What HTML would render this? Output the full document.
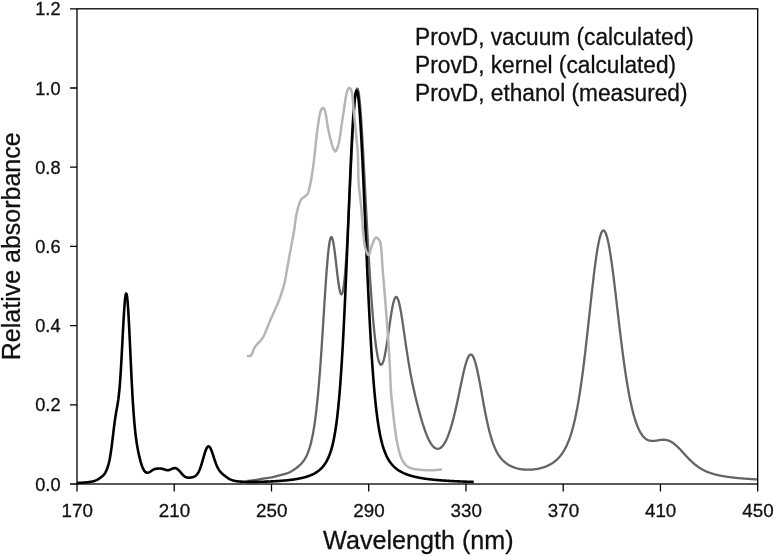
<!DOCTYPE html>
<html><head><meta charset="utf-8"><title>ProvD absorbance</title>
<style>
html,body{margin:0;padding:0;background:#fff;}
body{width:774px;height:556px;overflow:hidden;}
svg{display:block;}
text{font-family:"Liberation Sans",Arial,sans-serif;fill:#111;stroke:#111;stroke-width:0.3px;}
.tk{font-size:18.8px;}
.ttl{font-size:25px;}
.lg{font-size:22.7px;}
</style></head><body>
<svg width="774" height="556" viewBox="0 0 774 556">
<rect width="774" height="556" fill="#fff"/>
<g fill="none" stroke-linejoin="round" stroke-linecap="butt">
<path d="M247.17,480.94 L247.78,480.89 L248.39,480.84 L248.99,480.79 L249.60,480.73 L250.21,480.67 L250.82,480.61 L251.42,480.54 L252.03,480.47 L252.64,480.40 L253.25,480.32 L253.86,480.24 L254.46,480.16 L255.07,480.06 L255.68,479.97 L256.29,479.87 L256.89,479.76 L257.50,479.65 L258.11,479.54 L258.72,479.43 L259.33,479.31 L259.93,479.20 L260.54,479.08 L261.15,478.97 L261.76,478.86 L262.36,478.75 L262.97,478.65 L263.58,478.55 L264.19,478.46 L264.79,478.37 L265.40,478.29 L266.01,478.21 L266.62,478.13 L267.23,478.05 L267.83,477.97 L268.44,477.89 L269.05,477.81 L269.66,477.72 L270.26,477.62 L270.87,477.52 L271.48,477.41 L272.09,477.29 L272.70,477.16 L273.30,477.02 L273.91,476.87 L274.52,476.72 L275.13,476.56 L275.73,476.39 L276.34,476.22 L276.95,476.05 L277.56,475.89 L278.17,475.72 L278.77,475.55 L279.38,475.39 L279.99,475.23 L280.60,475.07 L281.20,474.92 L281.81,474.77 L282.42,474.62 L283.03,474.47 L283.63,474.32 L284.24,474.16 L284.85,473.99 L285.46,473.82 L286.07,473.63 L286.67,473.43 L287.28,473.22 L287.89,472.99 L288.50,472.74 L289.10,472.48 L289.71,472.19 L290.32,471.89 L290.93,471.56 L291.54,471.22 L292.14,470.87 L292.75,470.49 L293.36,470.10 L293.97,469.70 L294.57,469.28 L295.18,468.85 L295.79,468.41 L296.40,467.96 L297.01,467.49 L297.61,467.01 L298.22,466.51 L298.83,466.00 L299.44,465.46 L300.04,464.91 L300.65,464.32 L301.26,463.70 L301.87,463.04 L302.48,462.33 L303.08,461.57 L303.69,460.76 L304.30,459.87 L304.91,458.91 L305.51,457.87 L306.12,456.73 L306.73,455.49 L307.34,454.13 L307.94,452.65 L308.55,451.02 L309.16,449.25 L309.77,447.30 L310.38,445.18 L310.98,442.85 L311.59,440.30 L312.20,437.52 L312.81,434.47 L313.41,431.15 L314.02,427.52 L314.63,423.55 L315.24,419.23 L315.85,414.53 L316.45,409.43 L317.06,403.89 L317.67,397.90 L318.28,391.44 L318.88,384.51 L319.49,377.10 L320.10,369.22 L320.71,360.90 L321.32,352.17 L321.92,343.07 L322.53,333.69 L323.14,324.10 L323.75,314.41 L324.35,304.74 L324.96,295.20 L325.57,285.95 L326.18,277.13 L326.79,268.89 L327.39,261.36 L328.00,254.67 L328.61,248.95 L329.22,244.28 L329.82,240.74 L330.43,238.37 L331.04,237.18 L331.65,237.15 L332.25,238.22 L332.86,240.33 L333.47,243.35 L334.08,247.15 L334.69,251.59 L335.29,256.51 L335.90,261.72 L336.51,267.05 L337.12,272.32 L337.72,277.36 L338.33,282.00 L338.94,286.10 L339.55,289.50 L340.16,292.09 L340.76,293.76 L341.37,294.40 L341.98,293.96 L342.59,292.36 L343.19,289.58 L343.80,285.59 L344.41,280.39 L345.02,273.99 L345.63,266.45 L346.23,257.81 L346.84,248.17 L347.45,237.63 L348.06,226.31 L348.66,214.36 L349.27,201.95 L349.88,189.26 L350.49,176.51 L351.10,163.89 L351.70,151.62 L352.31,139.92 L352.92,129.00 L353.53,119.07 L354.13,110.29 L354.74,102.84 L355.35,96.86 L355.96,92.43 L356.56,89.64 L357.17,88.51 L357.78,89.04 L358.39,91.21 L359.00,94.93 L359.60,100.12 L360.21,106.66 L360.82,114.39 L361.43,123.18 L362.03,132.86 L362.64,143.27 L363.25,154.24 L363.86,165.61 L364.47,177.25 L365.07,189.01 L365.68,200.78 L366.29,212.45 L366.90,223.93 L367.50,235.15 L368.11,246.04 L368.72,256.56 L369.33,266.68 L369.94,276.35 L370.54,285.57 L371.15,294.31 L371.76,302.57 L372.37,310.33 L372.97,317.60 L373.58,324.37 L374.19,330.63 L374.80,336.38 L375.41,341.62 L376.01,346.33 L376.62,350.52 L377.23,354.17 L377.84,357.29 L378.44,359.88 L379.05,361.92 L379.66,363.42 L380.27,364.38 L380.88,364.81 L381.48,364.70 L382.09,364.07 L382.70,362.94 L383.31,361.32 L383.91,359.24 L384.52,356.73 L385.13,353.81 L385.74,350.54 L386.34,346.95 L386.95,343.11 L387.56,339.05 L388.17,334.86 L388.78,330.58 L389.38,326.30 L389.99,322.07 L390.60,317.98 L391.21,314.08 L391.81,310.45 L392.42,307.15 L393.03,304.24 L393.64,301.76 L394.25,299.76 L394.85,298.28 L395.46,297.33 L396.07,296.93 L396.68,297.08 L397.28,297.78 L397.89,299.01 L398.50,300.73 L399.11,302.93 L399.72,305.55 L400.32,308.55 L400.93,311.88 L401.54,315.49 L402.15,319.33 L402.75,323.34 L403.36,327.47 L403.97,331.68 L404.58,335.92 L405.19,340.15 L405.79,344.34 L406.40,348.47 L407.01,352.50 L407.62,356.43 L408.22,360.24 L408.83,363.92 L409.44,367.47 L410.05,370.90 L410.65,374.20 L411.26,377.39 L411.87,380.46 L412.48,383.42 L413.09,386.30 L413.69,389.08 L414.30,391.79 L414.91,394.43 L415.52,397.01 L416.12,399.52 L416.73,401.99 L417.34,404.40 L417.95,406.77 L418.56,409.09 L419.16,411.37 L419.77,413.59 L420.38,415.78 L420.99,417.91 L421.59,419.99 L422.20,422.01 L422.81,423.98 L423.42,425.89 L424.03,427.73 L424.63,429.51 L425.24,431.22 L425.85,432.86 L426.46,434.43 L427.06,435.92 L427.67,437.34 L428.28,438.67 L428.89,439.93 L429.50,441.10 L430.10,442.20 L430.71,443.21 L431.32,444.14 L431.93,444.98 L432.53,445.74 L433.14,446.42 L433.75,447.01 L434.36,447.52 L434.96,447.94 L435.57,448.28 L436.18,448.54 L436.79,448.71 L437.40,448.80 L438.00,448.80 L438.61,448.71 L439.22,448.54 L439.83,448.28 L440.43,447.94 L441.04,447.51 L441.65,446.98 L442.26,446.37 L442.87,445.67 L443.47,444.87 L444.08,443.98 L444.69,443.00 L445.30,441.93 L445.90,440.76 L446.51,439.49 L447.12,438.13 L447.73,436.68 L448.34,435.13 L448.94,433.48 L449.55,431.74 L450.16,429.90 L450.77,427.98 L451.37,425.95 L451.98,423.84 L452.59,421.64 L453.20,419.35 L453.81,416.98 L454.41,414.52 L455.02,411.98 L455.63,409.38 L456.24,406.70 L456.84,403.96 L457.45,401.16 L458.06,398.32 L458.67,395.44 L459.27,392.53 L459.88,389.61 L460.49,386.69 L461.10,383.78 L461.71,380.90 L462.31,378.07 L462.92,375.31 L463.53,372.63 L464.14,370.06 L464.74,367.61 L465.35,365.32 L465.96,363.19 L466.57,361.26 L467.18,359.53 L467.78,358.04 L468.39,356.78 L469.00,355.79 L469.61,355.08 L470.21,354.64 L470.82,354.50 L471.43,354.65 L472.04,355.10 L472.65,355.85 L473.25,356.89 L473.86,358.22 L474.47,359.81 L475.08,361.67 L475.68,363.77 L476.29,366.10 L476.90,368.64 L477.51,371.36 L478.12,374.24 L478.72,377.27 L479.33,380.41 L479.94,383.64 L480.55,386.94 L481.15,390.28 L481.76,393.65 L482.37,397.02 L482.98,400.37 L483.58,403.69 L484.19,406.96 L484.80,410.17 L485.41,413.29 L486.02,416.33 L486.62,419.27 L487.23,422.10 L487.84,424.82 L488.45,427.43 L489.05,429.92 L489.66,432.29 L490.27,434.54 L490.88,436.68 L491.49,438.70 L492.09,440.60 L492.70,442.40 L493.31,444.09 L493.92,445.68 L494.52,447.17 L495.13,448.57 L495.74,449.89 L496.35,451.12 L496.96,452.27 L497.56,453.35 L498.17,454.37 L498.78,455.32 L499.39,456.21 L499.99,457.05 L500.60,457.84 L501.21,458.58 L501.82,459.27 L502.43,459.93 L503.03,460.55 L503.64,461.13 L504.25,461.69 L504.86,462.21 L505.46,462.70 L506.07,463.17 L506.68,463.61 L507.29,464.03 L507.89,464.42 L508.50,464.80 L509.11,465.15 L509.72,465.49 L510.33,465.81 L510.93,466.11 L511.54,466.40 L512.15,466.67 L512.76,466.93 L513.36,467.17 L513.97,467.40 L514.58,467.61 L515.19,467.82 L515.80,468.01 L516.40,468.18 L517.01,468.35 L517.62,468.50 L518.23,468.65 L518.83,468.78 L519.44,468.91 L520.05,469.02 L520.66,469.12 L521.27,469.22 L521.87,469.30 L522.48,469.38 L523.09,469.45 L523.70,469.51 L524.30,469.56 L524.91,469.60 L525.52,469.64 L526.13,469.66 L526.74,469.68 L527.34,469.69 L527.95,469.70 L528.56,469.70 L529.17,469.69 L529.77,469.67 L530.38,469.65 L530.99,469.62 L531.60,469.58 L532.20,469.53 L532.81,469.48 L533.42,469.42 L534.03,469.36 L534.64,469.28 L535.24,469.20 L535.85,469.11 L536.46,469.02 L537.07,468.92 L537.67,468.81 L538.28,468.69 L538.89,468.56 L539.50,468.43 L540.11,468.29 L540.71,468.14 L541.32,467.98 L541.93,467.81 L542.54,467.63 L543.14,467.44 L543.75,467.25 L544.36,467.04 L544.97,466.82 L545.58,466.59 L546.18,466.35 L546.79,466.10 L547.40,465.84 L548.01,465.56 L548.61,465.27 L549.22,464.96 L549.83,464.65 L550.44,464.31 L551.05,463.96 L551.65,463.60 L552.26,463.21 L552.87,462.81 L553.48,462.39 L554.08,461.94 L554.69,461.48 L555.30,460.99 L555.91,460.48 L556.51,459.95 L557.12,459.39 L557.73,458.80 L558.34,458.18 L558.95,457.53 L559.55,456.84 L560.16,456.12 L560.77,455.36 L561.38,454.57 L561.98,453.73 L562.59,452.84 L563.20,451.91 L563.81,450.93 L564.42,449.89 L565.02,448.80 L565.63,447.64 L566.24,446.42 L566.85,445.14 L567.45,443.78 L568.06,442.34 L568.67,440.83 L569.28,439.23 L569.89,437.53 L570.49,435.75 L571.10,433.86 L571.71,431.87 L572.32,429.77 L572.92,427.56 L573.53,425.22 L574.14,422.76 L574.75,420.17 L575.36,417.44 L575.96,414.57 L576.57,411.56 L577.18,408.40 L577.79,405.10 L578.39,401.63 L579.00,398.01 L579.61,394.24 L580.22,390.30 L580.82,386.21 L581.43,381.96 L582.04,377.56 L582.65,373.01 L583.26,368.31 L583.86,363.47 L584.47,358.50 L585.08,353.40 L585.69,348.19 L586.29,342.88 L586.90,337.48 L587.51,332.00 L588.12,326.47 L588.73,320.89 L589.33,315.29 L589.94,309.69 L590.55,304.10 L591.16,298.56 L591.76,293.07 L592.37,287.67 L592.98,282.39 L593.59,277.23 L594.20,272.23 L594.80,267.41 L595.41,262.80 L596.02,258.42 L596.63,254.29 L597.23,250.43 L597.84,246.86 L598.45,243.61 L599.06,240.68 L599.66,238.10 L600.27,235.88 L600.88,234.03 L601.49,232.56 L602.10,231.47 L602.70,230.78 L603.31,230.48 L603.92,230.58 L604.53,231.06 L605.13,231.94 L605.74,233.19 L606.35,234.82 L606.96,236.81 L607.57,239.14 L608.17,241.81 L608.78,244.79 L609.39,248.08 L610.00,251.64 L610.60,255.46 L611.21,259.52 L611.82,263.79 L612.43,268.26 L613.04,272.89 L613.64,277.68 L614.25,282.59 L614.86,287.61 L615.47,292.71 L616.07,297.87 L616.68,303.07 L617.29,308.28 L617.90,313.50 L618.51,318.71 L619.11,323.88 L619.72,329.00 L620.33,334.07 L620.94,339.05 L621.54,343.95 L622.15,348.75 L622.76,353.44 L623.37,358.02 L623.98,362.47 L624.58,366.80 L625.19,370.99 L625.80,375.05 L626.41,378.96 L627.01,382.73 L627.62,386.36 L628.23,389.84 L628.84,393.18 L629.44,396.38 L630.05,399.43 L630.66,402.34 L631.27,405.12 L631.88,407.76 L632.48,410.27 L633.09,412.64 L633.70,414.89 L634.31,417.02 L634.91,419.03 L635.52,420.92 L636.13,422.70 L636.74,424.37 L637.35,425.94 L637.95,427.41 L638.56,428.78 L639.17,430.05 L639.78,431.24 L640.38,432.34 L640.99,433.35 L641.60,434.29 L642.21,435.14 L642.82,435.93 L643.42,436.65 L644.03,437.29 L644.64,437.88 L645.25,438.40 L645.85,438.87 L646.46,439.28 L647.07,439.63 L647.68,439.94 L648.28,440.20 L648.89,440.42 L649.50,440.60 L650.11,440.74 L650.72,440.84 L651.32,440.91 L651.93,440.95 L652.54,440.96 L653.15,440.95 L653.75,440.92 L654.36,440.87 L654.97,440.80 L655.58,440.73 L656.19,440.64 L656.79,440.54 L657.40,440.44 L658.01,440.34 L658.62,440.24 L659.22,440.14 L659.83,440.05 L660.44,439.97 L661.05,439.89 L661.66,439.84 L662.26,439.79 L662.87,439.76 L663.48,439.76 L664.09,439.77 L664.69,439.81 L665.30,439.87 L665.91,439.95 L666.52,440.06 L667.13,440.20 L667.73,440.36 L668.34,440.56 L668.95,440.78 L669.56,441.03 L670.16,441.31 L670.77,441.62 L671.38,441.96 L671.99,442.33 L672.60,442.72 L673.20,443.14 L673.81,443.59 L674.42,444.06 L675.03,444.55 L675.63,445.07 L676.24,445.60 L676.85,446.16 L677.46,446.74 L678.06,447.33 L678.67,447.93 L679.28,448.55 L679.89,449.18 L680.50,449.82 L681.10,450.47 L681.71,451.13 L682.32,451.79 L682.93,452.45 L683.53,453.11 L684.14,453.78 L684.75,454.45 L685.36,455.11 L685.97,455.77 L686.57,456.42 L687.18,457.07 L687.79,457.71 L688.40,458.34 L689.00,458.96 L689.61,459.58 L690.22,460.18 L690.83,460.77 L691.44,461.35 L692.04,461.92 L692.65,462.47 L693.26,463.01 L693.87,463.54 L694.47,464.05 L695.08,464.55 L695.69,465.04 L696.30,465.51 L696.90,465.97 L697.51,466.42 L698.12,466.85 L698.73,467.27 L699.34,467.67 L699.94,468.06 L700.55,468.44 L701.16,468.80 L701.77,469.16 L702.37,469.50 L702.98,469.83 L703.59,470.14 L704.20,470.45 L704.81,470.75 L705.41,471.03 L706.02,471.31 L706.63,471.57 L707.24,471.83 L707.84,472.07 L708.45,472.31 L709.06,472.54 L709.67,472.76 L710.28,472.97 L710.88,473.18 L711.49,473.38 L712.10,473.57 L712.71,473.76 L713.31,473.93 L713.92,474.11 L714.53,474.27 L715.14,474.44 L715.75,474.59 L716.35,474.74 L716.96,474.89 L717.57,475.03 L718.18,475.17 L718.78,475.30 L719.39,475.43 L720.00,475.55 L720.61,475.67 L721.22,475.79 L721.82,475.91 L722.43,476.02 L723.04,476.12 L723.65,476.23 L724.25,476.33 L724.86,476.43 L725.47,476.53 L726.08,476.62 L726.68,476.71 L727.29,476.80 L727.90,476.89 L728.51,476.97 L729.12,477.05 L729.72,477.13 L730.33,477.21 L730.94,477.29 L731.55,477.36 L732.15,477.44 L732.76,477.51 L733.37,477.58 L733.98,477.64 L734.59,477.71 L735.19,477.78 L735.80,477.84 L736.41,477.90 L737.02,477.96 L737.62,478.02 L738.23,478.08 L738.84,478.14 L739.45,478.20 L740.06,478.25 L740.66,478.30 L741.27,478.36 L741.88,478.41 L742.49,478.46 L743.09,478.51 L743.70,478.56 L744.31,478.61 L744.92,478.66 L745.52,478.70 L746.13,478.75 L746.74,478.79 L747.35,478.84 L747.96,478.88 L748.56,478.92 L749.17,478.96 L749.78,479.00 L750.39,479.05 L750.99,479.08 L751.60,479.12 L752.21,479.16 L752.82,479.20 L753.43,479.24 L754.03,479.27 L754.64,479.31 L755.25,479.35 L755.86,479.38 L756.46,479.42 L757.07,479.45 L757.68,479.48" stroke="#646464" stroke-width="2.3"/>
<path d="M77.00,482.99 L77.49,482.97 L77.97,482.94 L78.46,482.92 L78.94,482.89 L79.43,482.87 L79.92,482.84 L80.40,482.81 L80.89,482.78 L81.38,482.75 L81.86,482.72 L82.35,482.69 L82.83,482.66 L83.32,482.62 L83.81,482.59 L84.29,482.55 L84.78,482.51 L85.27,482.47 L85.75,482.42 L86.24,482.38 L86.72,482.33 L87.21,482.28 L87.70,482.22 L88.18,482.17 L88.67,482.11 L89.15,482.05 L89.64,481.98 L90.13,481.91 L90.61,481.84 L91.10,481.76 L91.59,481.67 L92.07,481.58 L92.56,481.47 L93.04,481.36 L93.53,481.24 L94.02,481.11 L94.50,480.96 L94.99,480.79 L95.48,480.61 L95.96,480.40 L96.45,480.18 L96.93,479.93 L97.42,479.66 L97.91,479.37 L98.39,479.06 L98.88,478.74 L99.37,478.41 L99.85,478.07 L100.34,477.73 L100.82,477.38 L101.31,477.02 L101.80,476.65 L102.28,476.26 L102.77,475.83 L103.25,475.37 L103.74,474.85 L104.23,474.26 L104.71,473.59 L105.20,472.83 L105.69,471.96 L106.17,470.99 L106.66,469.90 L107.14,468.67 L107.63,467.29 L108.12,465.73 L108.60,463.97 L109.09,461.98 L109.58,459.72 L110.06,457.17 L110.55,454.31 L111.03,451.12 L111.52,447.62 L112.01,443.86 L112.49,439.88 L112.98,435.78 L113.46,431.66 L113.95,427.62 L114.44,423.76 L114.92,420.15 L115.41,416.84 L115.90,413.82 L116.38,411.03 L116.87,408.36 L117.35,405.66 L117.84,402.74 L118.33,399.42 L118.81,395.50 L119.30,390.83 L119.79,385.30 L120.27,378.86 L120.76,371.53 L121.24,363.39 L121.73,354.60 L122.22,345.39 L122.70,336.02 L123.19,326.80 L123.68,318.09 L124.16,310.23 L124.65,303.56 L125.13,298.39 L125.62,294.97 L126.11,293.48 L126.59,294.04 L127.08,296.64 L127.56,301.20 L128.05,307.52 L128.54,315.37 L129.02,324.42 L129.51,334.33 L130.00,344.77 L130.48,355.39 L130.97,365.91 L131.45,376.07 L131.94,385.69 L132.43,394.63 L132.91,402.82 L133.40,410.22 L133.89,416.84 L134.37,422.72 L134.86,427.93 L135.34,432.53 L135.83,436.60 L136.32,440.23 L136.80,443.49 L137.29,446.44 L137.77,449.14 L138.26,451.64 L138.75,453.96 L139.23,456.13 L139.72,458.16 L140.21,460.06 L140.69,461.84 L141.18,463.49 L141.66,465.00 L142.15,466.38 L142.64,467.61 L143.12,468.71 L143.61,469.67 L144.10,470.49 L144.58,471.17 L145.07,471.73 L145.55,472.16 L146.04,472.48 L146.53,472.69 L147.01,472.80 L147.50,472.81 L147.99,472.75 L148.47,472.61 L148.96,472.40 L149.44,472.15 L149.93,471.86 L150.42,471.54 L150.90,471.21 L151.39,470.87 L151.87,470.54 L152.36,470.23 L152.85,469.94 L153.33,469.68 L153.82,469.45 L154.31,469.26 L154.79,469.09 L155.28,468.95 L155.76,468.84 L156.25,468.76 L156.74,468.69 L157.22,468.63 L157.71,468.59 L158.20,468.56 L158.68,468.53 L159.17,468.52 L159.65,468.51 L160.14,468.52 L160.63,468.55 L161.11,468.59 L161.60,468.66 L162.08,468.75 L162.57,468.87 L163.06,469.01 L163.54,469.17 L164.03,469.34 L164.52,469.51 L165.00,469.69 L165.49,469.85 L165.97,469.99 L166.46,470.10 L166.95,470.17 L167.43,470.21 L167.92,470.20 L168.41,470.14 L168.89,470.04 L169.38,469.90 L169.86,469.73 L170.35,469.54 L170.84,469.32 L171.32,469.10 L171.81,468.88 L172.30,468.67 L172.78,468.48 L173.27,468.32 L173.75,468.20 L174.24,468.12 L174.73,468.09 L175.21,468.13 L175.70,468.22 L176.18,468.38 L176.67,468.60 L177.16,468.89 L177.64,469.24 L178.13,469.64 L178.62,470.10 L179.10,470.60 L179.59,471.13 L180.07,471.69 L180.56,472.26 L181.05,472.84 L181.53,473.41 L182.02,473.97 L182.51,474.50 L182.99,475.00 L183.48,475.46 L183.96,475.88 L184.45,476.26 L184.94,476.59 L185.42,476.87 L185.91,477.11 L186.39,477.30 L186.88,477.45 L187.37,477.56 L187.85,477.64 L188.34,477.68 L188.83,477.70 L189.31,477.69 L189.80,477.66 L190.28,477.62 L190.77,477.55 L191.26,477.47 L191.74,477.38 L192.23,477.27 L192.72,477.14 L193.20,476.99 L193.69,476.81 L194.17,476.60 L194.66,476.36 L195.15,476.07 L195.63,475.73 L196.12,475.32 L196.61,474.85 L197.09,474.29 L197.58,473.64 L198.06,472.89 L198.55,472.04 L199.04,471.07 L199.52,469.99 L200.01,468.78 L200.49,467.47 L200.98,466.04 L201.47,464.52 L201.95,462.91 L202.44,461.23 L202.93,459.51 L203.41,457.78 L203.90,456.07 L204.38,454.39 L204.87,452.80 L205.36,451.33 L205.84,449.99 L206.33,448.84 L206.82,447.88 L207.30,447.15 L207.79,446.65 L208.27,446.40 L208.76,446.40 L209.25,446.65 L209.73,447.13 L210.22,447.83 L210.70,448.73 L211.19,449.81 L211.68,451.03 L212.16,452.37 L212.65,453.80 L213.14,455.28 L213.62,456.79 L214.11,458.30 L214.59,459.78 L215.08,461.22 L215.57,462.60 L216.05,463.90 L216.54,465.11 L217.03,466.24 L217.51,467.28 L218.00,468.23 L218.48,469.09 L218.97,469.87 L219.46,470.58 L219.94,471.23 L220.43,471.82 L220.92,472.36 L221.40,472.87 L221.89,473.34 L222.37,473.79 L222.86,474.22 L223.35,474.64 L223.83,475.04 L224.32,475.44 L224.80,475.82 L225.29,476.20 L225.78,476.57 L226.26,476.93 L226.75,477.28 L227.24,477.62 L227.72,477.94 L228.21,478.25 L228.69,478.55 L229.18,478.82 L229.67,479.09 L230.15,479.33 L230.64,479.56 L231.13,479.77 L231.61,479.96 L232.10,480.14 L232.58,480.31 L233.07,480.45 L233.56,480.59 L234.04,480.71 L234.53,480.83 L235.01,480.93 L235.50,481.02 L235.99,481.10 L236.47,481.18 L236.96,481.25 L237.45,481.31 L237.93,481.36 L238.42,481.42 L238.90,481.46 L239.39,481.50 L239.88,481.54 L240.36,481.58 L240.85,481.61 L241.34,481.64 L241.82,481.67 L242.31,481.69 L242.79,481.71 L243.28,481.73 L243.77,481.75 L244.25,481.77 L244.74,481.79 L245.23,481.80 L245.71,481.81 L246.20,481.82 L246.68,481.83 L247.17,481.84 L247.66,481.85 L248.14,481.86 L248.63,481.86 L249.11,481.87 L249.60,481.87 L250.09,481.87 L250.57,481.88 L251.06,481.88 L251.55,481.88 L252.03,481.88 L252.52,481.88 L253.00,481.88 L253.49,481.87 L253.98,481.87 L254.46,481.87 L254.95,481.86 L255.44,481.86 L255.92,481.86 L256.41,481.85 L256.89,481.84 L257.38,481.84 L257.87,481.83 L258.35,481.82 L258.84,481.81 L259.32,481.80 L259.81,481.79 L260.30,481.78 L260.78,481.77 L261.27,481.76 L261.76,481.75 L262.24,481.74 L262.73,481.73 L263.21,481.71 L263.70,481.70 L264.19,481.68 L264.67,481.67 L265.16,481.65 L265.65,481.64 L266.13,481.62 L266.62,481.61 L267.10,481.59 L267.59,481.57 L268.08,481.55 L268.56,481.53 L269.05,481.51 L269.54,481.49 L270.02,481.47 L270.51,481.45 L270.99,481.43 L271.48,481.41 L271.97,481.38 L272.45,481.36 L272.94,481.33 L273.42,481.31 L273.91,481.28 L274.40,481.26 L274.88,481.23 L275.37,481.20 L275.86,481.17 L276.34,481.15 L276.83,481.12 L277.31,481.08 L277.80,481.05 L278.29,481.02 L278.77,480.99 L279.26,480.95 L279.75,480.92 L280.23,480.88 L280.72,480.85 L281.20,480.81 L281.69,480.77 L282.18,480.73 L282.66,480.69 L283.15,480.65 L283.63,480.61 L284.12,480.57 L284.61,480.53 L285.09,480.48 L285.58,480.43 L286.07,480.39 L286.55,480.34 L287.04,480.29 L287.52,480.24 L288.01,480.19 L288.50,480.13 L288.98,480.08 L289.47,480.02 L289.96,479.97 L290.44,479.91 L290.93,479.85 L291.41,479.78 L291.90,479.72 L292.39,479.66 L292.87,479.59 L293.36,479.52 L293.85,479.45 L294.33,479.38 L294.82,479.30 L295.30,479.23 L295.79,479.15 L296.28,479.07 L296.76,478.99 L297.25,478.90 L297.73,478.81 L298.22,478.73 L298.71,478.63 L299.19,478.54 L299.68,478.44 L300.17,478.34 L300.65,478.24 L301.14,478.13 L301.62,478.02 L302.11,477.91 L302.60,477.79 L303.08,477.68 L303.57,477.55 L304.06,477.43 L304.54,477.30 L305.03,477.16 L305.51,477.02 L306.00,476.88 L306.49,476.73 L306.97,476.58 L307.46,476.42 L307.94,476.26 L308.43,476.09 L308.92,475.91 L309.40,475.73 L309.89,475.55 L310.38,475.35 L310.86,475.16 L311.35,474.95 L311.83,474.73 L312.32,474.51 L312.81,474.28 L313.29,474.04 L313.78,473.79 L314.27,473.53 L314.75,473.27 L315.24,472.99 L315.72,472.70 L316.21,472.40 L316.70,472.08 L317.18,471.75 L317.67,471.41 L318.16,471.05 L318.64,470.68 L319.13,470.29 L319.61,469.89 L320.10,469.46 L320.59,469.02 L321.07,468.55 L321.56,468.06 L322.04,467.55 L322.53,467.01 L323.02,466.44 L323.50,465.84 L323.99,465.21 L324.48,464.55 L324.96,463.85 L325.45,463.11 L325.93,462.33 L326.42,461.50 L326.91,460.62 L327.39,459.68 L327.88,458.69 L328.37,457.63 L328.85,456.51 L329.34,455.31 L329.82,454.02 L330.31,452.65 L330.80,451.17 L331.28,449.59 L331.77,447.90 L332.25,446.07 L332.74,444.11 L333.23,442.00 L333.71,439.72 L334.20,437.26 L334.69,434.60 L335.17,431.74 L335.66,428.64 L336.14,425.30 L336.63,421.70 L337.12,417.80 L337.60,413.60 L338.09,409.08 L338.58,404.21 L339.06,398.97 L339.55,393.35 L340.03,387.32 L340.52,380.88 L341.01,374.00 L341.49,366.68 L341.98,358.91 L342.47,350.68 L342.95,342.00 L343.44,332.87 L343.92,323.29 L344.41,313.29 L344.90,302.89 L345.38,292.12 L345.87,281.01 L346.35,269.62 L346.84,257.98 L347.33,246.16 L347.81,234.22 L348.30,222.23 L348.79,210.27 L349.27,198.42 L349.76,186.76 L350.24,175.39 L350.73,164.38 L351.22,153.84 L351.70,143.85 L352.19,134.50 L352.68,125.86 L353.16,118.03 L353.65,111.07 L354.13,105.04 L354.62,100.01 L355.11,96.01 L355.59,93.09 L356.08,91.27 L356.56,90.57 L357.05,90.98 L357.54,92.50 L358.02,95.11 L358.51,98.78 L359.00,103.47 L359.48,109.12 L359.97,115.67 L360.45,123.07 L360.94,131.23 L361.43,140.09 L361.91,149.55 L362.40,159.55 L362.89,169.98 L363.37,180.77 L363.86,191.83 L364.34,203.09 L364.83,214.47 L365.32,225.88 L365.80,237.27 L366.29,248.57 L366.78,259.72 L367.26,270.67 L367.75,281.37 L368.23,291.78 L368.72,301.87 L369.21,311.62 L369.69,321.00 L370.18,329.99 L370.66,338.58 L371.15,346.77 L371.64,354.55 L372.12,361.92 L372.61,368.90 L373.10,375.48 L373.58,381.67 L374.07,387.50 L374.55,392.96 L375.04,398.08 L375.53,402.87 L376.01,407.35 L376.50,411.54 L376.99,415.44 L377.47,419.08 L377.96,422.48 L378.44,425.64 L378.93,428.59 L379.42,431.34 L379.90,433.90 L380.39,436.29 L380.87,438.52 L381.36,440.60 L381.85,442.54 L382.33,444.36 L382.82,446.05 L383.31,447.64 L383.79,449.13 L384.28,450.53 L384.76,451.84 L385.25,453.07 L385.74,454.23 L386.22,455.32 L386.71,456.35 L387.20,457.32 L387.68,458.24 L388.17,459.10 L388.65,459.93 L389.14,460.70 L389.63,461.44 L390.11,462.15 L390.60,462.81 L391.09,463.45 L391.57,464.05 L392.06,464.63 L392.54,465.18 L393.03,465.70 L393.52,466.20 L394.00,466.68 L394.49,467.14 L394.97,467.58 L395.46,468.00 L395.95,468.41 L396.43,468.80 L396.92,469.17 L397.41,469.53 L397.89,469.87 L398.38,470.20 L398.86,470.52 L399.35,470.83 L399.84,471.13 L400.32,471.41 L400.81,471.69 L401.30,471.95 L401.78,472.21 L402.27,472.46 L402.75,472.70 L403.24,472.93 L403.73,473.15 L404.21,473.37 L404.70,473.58 L405.18,473.78 L405.67,473.98 L406.16,474.17 L406.64,474.36 L407.13,474.54 L407.62,474.71 L408.10,474.88 L408.59,475.04 L409.07,475.20 L409.56,475.36 L410.05,475.51 L410.53,475.66 L411.02,475.80 L411.51,475.94 L411.99,476.07 L412.48,476.20 L412.96,476.33 L413.45,476.46 L413.94,476.58 L414.42,476.69 L414.91,476.81 L415.40,476.92 L415.88,477.03 L416.37,477.14 L416.85,477.24 L417.34,477.34 L417.83,477.44 L418.31,477.54 L418.80,477.63 L419.28,477.72 L419.77,477.81 L420.26,477.90 L420.74,477.99 L421.23,478.07 L421.72,478.15 L422.20,478.23 L422.69,478.31 L423.17,478.39 L423.66,478.46 L424.15,478.54 L424.63,478.61 L425.12,478.68 L425.61,478.75 L426.09,478.82 L426.58,478.88 L427.06,478.95 L427.55,479.01 L428.04,479.07 L428.52,479.13 L429.01,479.19 L429.49,479.25 L429.98,479.31 L430.47,479.36 L430.95,479.42 L431.44,479.47 L431.93,479.52 L432.41,479.58 L432.90,479.63 L433.38,479.68 L433.87,479.73 L434.36,479.77 L434.84,479.82 L435.33,479.87 L435.82,479.91 L436.30,479.96 L436.79,480.00 L437.27,480.04 L437.76,480.09 L438.25,480.13 L438.73,480.17 L439.22,480.21 L439.71,480.25 L440.19,480.29 L440.68,480.33 L441.16,480.36 L441.65,480.40 L442.14,480.44 L442.62,480.47 L443.11,480.51 L443.59,480.54 L444.08,480.58 L444.57,480.61 L445.05,480.64 L445.54,480.67 L446.03,480.71 L446.51,480.74 L447.00,480.77 L447.48,480.80 L447.97,480.83 L448.46,480.86 L448.94,480.89 L449.43,480.91 L449.92,480.94 L450.40,480.97 L450.89,481.00 L451.37,481.02 L451.86,481.05 L452.35,481.08 L452.83,481.10 L453.32,481.13 L453.80,481.15 L454.29,481.18 L454.78,481.20 L455.26,481.22 L455.75,481.25 L456.24,481.27 L456.72,481.29 L457.21,481.32 L457.69,481.34 L458.18,481.36 L458.67,481.38 L459.15,481.40 L459.64,481.42 L460.13,481.44 L460.61,481.47 L461.10,481.49 L461.58,481.51 L462.07,481.52 L462.56,481.54 L463.04,481.56 L463.53,481.58 L464.02,481.60 L464.50,481.62 L464.99,481.64 L465.47,481.65 L465.96,481.67 L466.45,481.69 L466.93,481.71 L467.42,481.72 L467.90,481.74 L468.39,481.76 L468.88,481.77 L469.36,481.79 L469.85,481.81 L470.34,481.82 L470.82,481.84 L471.31,481.85 L471.79,481.87 L472.28,481.88 L472.77,481.90 L473.25,481.91 L473.74,481.93" stroke="#000" stroke-width="2.6"/>
<path d="M246.80,355.90 L247.87,355.96 L248.84,355.99 L249.69,356.00 L250.40,355.93 L251.03,355.35 L251.57,354.43 L252.06,353.47 L252.48,352.64 L252.84,351.79 L253.16,350.91 L253.47,350.01 L253.79,349.13 L254.16,348.28 L254.58,347.48 L255.09,346.71 L255.65,345.96 L256.24,345.23 L256.85,344.51 L257.46,343.82 L258.11,343.15 L258.80,342.51 L259.49,341.88 L260.16,341.23 L260.78,340.55 L261.34,339.83 L261.88,339.07 L262.39,338.28 L262.88,337.48 L263.34,336.67 L263.77,335.86 L264.18,335.03 L264.57,334.18 L264.93,333.33 L265.28,332.47 L265.63,331.60 L265.98,330.73 L266.32,329.87 L266.68,329.01 L267.04,328.15 L267.39,327.29 L267.74,326.43 L268.09,325.57 L268.44,324.70 L268.79,323.84 L269.14,322.98 L269.49,322.12 L269.84,321.26 L270.20,320.41 L270.57,319.55 L270.94,318.70 L271.33,317.86 L271.73,317.02 L272.13,316.18 L272.52,315.34 L272.91,314.49 L273.29,313.64 L273.65,312.79 L274.02,311.93 L274.37,311.07 L274.73,310.22 L275.09,309.36 L275.47,308.51 L275.85,307.66 L276.23,306.81 L276.62,305.97 L277.01,305.12 L277.40,304.28 L277.77,303.43 L278.13,302.57 L278.47,301.71 L278.81,300.84 L279.13,299.97 L279.45,299.10 L279.77,298.23 L280.08,297.35 L280.38,296.47 L280.68,295.59 L280.97,294.70 L281.26,293.82 L281.54,292.93 L281.83,292.05 L282.11,291.16 L282.39,290.28 L282.67,289.39 L282.95,288.50 L283.22,287.61 L283.49,286.72 L283.75,285.83 L284.01,284.93 L284.25,284.04 L284.48,283.14 L284.69,282.23 L284.89,281.33 L285.08,280.42 L285.27,279.51 L285.44,278.60 L285.61,277.69 L285.77,276.77 L285.93,275.86 L286.09,274.94 L286.24,274.02 L286.40,273.10 L286.55,272.18 L286.71,271.27 L286.87,270.35 L287.03,269.43 L287.19,268.52 L287.35,267.60 L287.51,266.69 L287.67,265.77 L287.83,264.86 L287.99,263.94 L288.14,263.02 L288.30,262.11 L288.46,261.19 L288.62,260.28 L288.78,259.36 L288.94,258.45 L289.10,257.53 L289.27,256.62 L289.44,255.70 L289.60,254.79 L289.77,253.87 L289.95,252.96 L290.12,252.05 L290.29,251.13 L290.46,250.22 L290.64,249.31 L290.81,248.39 L290.98,247.48 L291.16,246.57 L291.33,245.65 L291.50,244.74 L291.67,243.83 L291.84,242.91 L292.01,242.00 L292.18,241.09 L292.36,240.17 L292.53,239.26 L292.71,238.35 L292.88,237.43 L293.05,236.52 L293.22,235.61 L293.39,234.69 L293.56,233.78 L293.72,232.86 L293.88,231.95 L294.03,231.03 L294.18,230.11 L294.32,229.19 L294.46,228.27 L294.58,227.35 L294.70,226.43 L294.82,225.51 L294.93,224.58 L295.04,223.66 L295.16,222.73 L295.27,221.81 L295.39,220.89 L295.51,219.97 L295.64,219.05 L295.78,218.13 L295.93,217.21 L296.08,216.30 L296.25,215.39 L296.43,214.48 L296.61,213.56 L296.81,212.65 L297.02,211.74 L297.24,210.83 L297.46,209.93 L297.70,209.03 L297.95,208.13 L298.20,207.24 L298.47,206.35 L298.75,205.47 L299.03,204.58 L299.33,203.67 L299.65,202.75 L299.99,201.85 L300.36,200.97 L300.77,200.15 L301.22,199.39 L301.74,198.72 L302.41,198.14 L303.19,197.61 L304.02,197.09 L304.80,196.54 L305.53,195.94 L306.27,195.32 L306.99,194.67 L307.57,193.98 L307.98,193.23 L308.30,192.41 L308.58,191.54 L308.82,190.62 L309.04,189.69 L309.25,188.74 L309.46,187.81 L309.67,186.90 L309.88,186.00 L310.09,185.09 L310.28,184.18 L310.48,183.27 L310.66,182.36 L310.84,181.45 L311.01,180.53 L311.17,179.62 L311.32,178.70 L311.48,177.79 L311.63,176.87 L311.78,175.95 L311.93,175.04 L312.07,174.12 L312.21,173.20 L312.35,172.28 L312.49,171.36 L312.62,170.44 L312.75,169.52 L312.88,168.60 L313.01,167.68 L313.13,166.75 L313.26,165.83 L313.38,164.91 L313.50,163.99 L313.62,163.07 L313.73,162.14 L313.85,161.22 L313.96,160.30 L314.08,159.38 L314.19,158.45 L314.29,157.53 L314.40,156.61 L314.50,155.68 L314.60,154.76 L314.69,153.84 L314.79,152.91 L314.88,151.99 L314.98,151.06 L315.07,150.14 L315.16,149.21 L315.26,148.29 L315.35,147.36 L315.45,146.44 L315.54,145.51 L315.64,144.59 L315.74,143.66 L315.84,142.74 L315.94,141.82 L316.04,140.89 L316.15,139.97 L316.26,139.05 L316.37,138.12 L316.47,137.20 L316.58,136.28 L316.69,135.35 L316.80,134.43 L316.91,133.50 L317.02,132.58 L317.13,131.66 L317.25,130.74 L317.37,129.81 L317.49,128.89 L317.61,127.97 L317.74,127.05 L317.87,126.13 L318.00,125.21 L318.13,124.29 L318.27,123.37 L318.41,122.45 L318.55,121.53 L318.69,120.61 L318.84,119.68 L318.98,118.75 L319.14,117.83 L319.30,116.90 L319.47,115.99 L319.65,115.07 L319.85,114.17 L320.07,113.27 L320.30,112.39 L320.56,111.51 L320.87,110.61 L321.25,109.72 L321.72,108.93 L322.36,108.25 L323.15,107.91 L323.87,108.52 L324.38,109.35 L324.72,110.16 L325.01,111.04 L325.25,111.96 L325.47,112.90 L325.66,113.84 L325.85,114.75 L326.03,115.66 L326.20,116.57 L326.35,117.49 L326.49,118.41 L326.63,119.33 L326.76,120.25 L326.90,121.17 L327.03,122.09 L327.16,123.01 L327.30,123.93 L327.45,124.85 L327.61,125.77 L327.78,126.68 L327.95,127.59 L328.12,128.51 L328.30,129.42 L328.49,130.33 L328.67,131.24 L328.87,132.15 L329.06,133.06 L329.26,133.97 L329.46,134.88 L329.67,135.79 L329.88,136.69 L330.10,137.60 L330.32,138.50 L330.54,139.40 L330.77,140.30 L331.01,141.20 L331.24,142.10 L331.48,143.01 L331.73,143.92 L331.99,144.82 L332.28,145.70 L332.58,146.58 L332.91,147.44 L333.27,148.30 L333.72,149.32 L334.23,150.34 L334.75,151.14 L335.26,151.50 L335.74,151.25 L336.25,150.54 L336.74,149.54 L337.18,148.47 L337.53,147.52 L337.81,146.66 L338.08,145.79 L338.32,144.90 L338.54,143.99 L338.75,143.08 L338.95,142.16 L339.13,141.24 L339.31,140.32 L339.48,139.39 L339.64,138.47 L339.81,137.55 L339.97,136.64 L340.12,135.73 L340.27,134.81 L340.41,133.89 L340.55,132.97 L340.68,132.05 L340.81,131.13 L340.93,130.21 L341.06,129.29 L341.18,128.37 L341.30,127.44 L341.43,126.52 L341.56,125.60 L341.69,124.68 L341.82,123.76 L341.95,122.84 L342.09,121.92 L342.23,121.00 L342.37,120.08 L342.51,119.16 L342.65,118.24 L342.79,117.32 L342.93,116.41 L343.07,115.49 L343.21,114.57 L343.35,113.65 L343.50,112.73 L343.64,111.81 L343.78,110.89 L343.92,109.98 L344.06,109.06 L344.20,108.14 L344.33,107.22 L344.47,106.30 L344.59,105.37 L344.72,104.45 L344.85,103.53 L344.98,102.60 L345.11,101.68 L345.24,100.76 L345.38,99.84 L345.53,98.93 L345.68,98.01 L345.85,97.10 L346.02,96.19 L346.21,95.28 L346.39,94.35 L346.59,93.42 L346.81,92.49 L347.06,91.58 L347.35,90.70 L347.67,89.87 L348.11,89.02 L348.73,88.14 L349.38,87.81 L350.10,88.29 L350.76,89.16 L351.15,89.96 L351.44,90.79 L351.68,91.68 L351.89,92.61 L352.07,93.56 L352.22,94.52 L352.35,95.46 L352.48,96.38 L352.59,97.30 L352.68,98.22 L352.78,99.14 L352.86,100.06 L352.94,100.99 L353.01,101.92 L353.08,102.85 L353.15,103.78 L353.22,104.71 L353.29,105.64 L353.36,106.56 L353.43,107.49 L353.51,108.42 L353.60,109.34 L353.69,110.27 L353.78,111.19 L353.87,112.12 L353.96,113.04 L354.06,113.97 L354.15,114.89 L354.25,115.82 L354.34,116.74 L354.44,117.67 L354.53,118.59 L354.63,119.52 L354.72,120.44 L354.82,121.37 L354.91,122.29 L355.00,123.22 L355.09,124.14 L355.18,125.07 L355.28,125.99 L355.37,126.92 L355.46,127.84 L355.55,128.77 L355.64,129.69 L355.73,130.62 L355.82,131.54 L355.91,132.47 L356.00,133.39 L356.09,134.32 L356.18,135.24 L356.27,136.17 L356.35,137.09 L356.44,138.02 L356.53,138.94 L356.62,139.87 L356.71,140.79 L356.81,141.72 L356.90,142.64 L357.00,143.57 L357.09,144.50 L357.19,145.42 L357.28,146.35 L357.37,147.27 L357.45,148.20 L357.53,149.12 L357.61,150.05 L357.68,150.98 L357.75,151.90 L357.80,152.83 L357.85,153.76 L357.90,154.68 L357.93,155.61 L357.96,156.54 L357.99,157.47 L358.02,158.40 L358.04,159.33 L358.07,160.26 L358.09,161.18 L358.11,162.11 L358.13,163.04 L358.14,163.97 L358.16,164.90 L358.18,165.83 L358.19,166.76 L358.21,167.69 L358.22,168.62 L358.24,169.56 L358.25,170.49 L358.27,171.41 L358.29,172.34 L358.31,173.27 L358.33,174.20 L358.35,175.13 L358.37,176.06 L358.40,176.99 L358.43,177.92 L358.46,178.85 L358.49,179.77 L358.53,180.70 L358.57,181.63 L358.63,182.55 L358.69,183.48 L358.75,184.41 L358.83,185.33 L358.91,186.26 L358.99,187.18 L359.08,188.11 L359.17,189.03 L359.27,189.96 L359.37,190.88 L359.47,191.80 L359.58,192.73 L359.68,193.65 L359.79,194.58 L359.90,195.50 L360.01,196.42 L360.13,197.35 L360.24,198.27 L360.35,199.20 L360.46,200.12 L360.56,201.05 L360.67,201.97 L360.77,202.89 L360.87,203.82 L360.97,204.74 L361.06,205.67 L361.15,206.59 L361.24,207.52 L361.32,208.45 L361.40,209.37 L361.47,210.30 L361.55,211.23 L361.62,212.16 L361.69,213.09 L361.75,214.01 L361.82,214.94 L361.89,215.87 L361.95,216.80 L362.01,217.73 L362.08,218.66 L362.14,219.59 L362.20,220.52 L362.27,221.45 L362.33,222.38 L362.39,223.31 L362.46,224.24 L362.52,225.17 L362.59,226.09 L362.66,227.02 L362.73,227.95 L362.81,228.88 L362.88,229.80 L362.96,230.73 L363.04,231.65 L363.12,232.58 L363.21,233.50 L363.30,234.42 L363.40,235.34 L363.49,236.27 L363.60,237.19 L363.70,238.10 L363.81,239.02 L363.93,239.94 L364.05,240.86 L364.18,241.79 L364.32,242.72 L364.47,243.66 L364.63,244.60 L364.80,245.53 L364.98,246.46 L365.18,247.38 L365.39,248.29 L365.62,249.19 L365.87,250.07 L366.13,250.94 L366.42,251.80 L366.74,252.65 L367.23,253.68 L367.81,254.60 L368.32,255.09 L368.72,255.00 L369.07,254.63 L369.40,254.02 L369.70,253.22 L369.99,252.26 L370.27,251.19 L370.55,250.06 L370.83,248.89 L371.12,247.74 L371.44,246.65 L371.77,245.65 L372.14,244.77 L372.53,243.81 L372.94,242.76 L373.37,241.68 L373.81,240.63 L374.27,239.65 L374.74,238.80 L375.24,238.14 L375.74,237.72 L376.27,237.60 L376.91,237.84 L377.66,238.38 L378.43,239.13 L379.16,240.01 L379.76,240.93 L380.14,241.79 L380.33,242.57 L380.49,243.36 L380.64,244.17 L380.78,244.99 L380.90,245.84 L381.03,246.70 L381.14,247.58 L381.24,248.47 L381.34,249.37 L381.43,250.29 L381.51,251.22 L381.59,252.15 L381.66,253.10 L381.72,254.05 L381.79,255.02 L381.85,255.98 L381.91,256.95 L381.96,257.93 L382.01,258.91 L382.07,259.88 L382.12,260.86 L382.17,261.84 L382.22,262.82 L382.28,263.79 L382.33,264.76 L382.39,265.73 L382.45,266.69 L382.52,267.64 L382.59,268.59 L382.66,269.53 L382.74,270.45 L382.82,271.38 L382.90,272.30 L382.98,273.23 L383.06,274.16 L383.13,275.08 L383.21,276.01 L383.29,276.94 L383.37,277.86 L383.45,278.79 L383.53,279.71 L383.61,280.64 L383.68,281.57 L383.76,282.49 L383.84,283.42 L383.92,284.34 L383.99,285.27 L384.07,286.20 L384.15,287.12 L384.23,288.05 L384.30,288.98 L384.38,289.90 L384.46,290.83 L384.53,291.76 L384.61,292.68 L384.69,293.61 L384.76,294.53 L384.84,295.46 L384.91,296.39 L384.99,297.31 L385.06,298.24 L385.14,299.17 L385.21,300.09 L385.29,301.02 L385.36,301.95 L385.44,302.87 L385.51,303.80 L385.58,304.73 L385.66,305.65 L385.73,306.58 L385.80,307.50 L385.88,308.43 L385.95,309.36 L386.02,310.28 L386.09,311.21 L386.16,312.14 L386.24,313.06 L386.31,313.99 L386.38,314.92 L386.45,315.84 L386.52,316.77 L386.59,317.70 L386.66,318.63 L386.73,319.55 L386.80,320.48 L386.87,321.41 L386.95,322.33 L387.02,323.26 L387.09,324.19 L387.16,325.11 L387.23,326.04 L387.30,326.97 L387.37,327.89 L387.44,328.82 L387.51,329.75 L387.58,330.67 L387.65,331.60 L387.72,332.53 L387.78,333.46 L387.85,334.38 L387.92,335.31 L387.99,336.24 L388.05,337.16 L388.12,338.09 L388.18,339.02 L388.25,339.94 L388.31,340.87 L388.38,341.80 L388.44,342.73 L388.50,343.65 L388.57,344.58 L388.63,345.51 L388.69,346.44 L388.75,347.36 L388.81,348.29 L388.87,349.22 L388.92,350.15 L388.98,351.07 L389.04,352.00 L389.09,352.93 L389.15,353.86 L389.20,354.78 L389.25,355.71 L389.31,356.64 L389.36,357.57 L389.41,358.50 L389.46,359.42 L389.51,360.35 L389.56,361.28 L389.61,362.21 L389.66,363.14 L389.70,364.07 L389.75,364.99 L389.80,365.92 L389.85,366.85 L389.89,367.78 L389.94,368.71 L389.98,369.64 L390.03,370.56 L390.08,371.49 L390.12,372.42 L390.16,373.35 L390.20,374.28 L390.24,375.21 L390.28,376.14 L390.32,377.06 L390.36,377.99 L390.39,378.92 L390.43,379.85 L390.46,380.78 L390.50,381.71 L390.54,382.64 L390.58,383.57 L390.62,384.50 L390.66,385.42 L390.70,386.35 L390.75,387.28 L390.80,388.21 L390.85,389.14 L390.90,390.06 L390.96,390.99 L391.03,391.92 L391.10,392.84 L391.17,393.77 L391.25,394.70 L391.33,395.62 L391.42,396.55 L391.51,397.47 L391.60,398.40 L391.69,399.32 L391.79,400.25 L391.88,401.17 L391.98,402.10 L392.08,403.02 L392.18,403.95 L392.28,404.87 L392.37,405.80 L392.47,406.72 L392.57,407.64 L392.66,408.57 L392.76,409.49 L392.85,410.42 L392.95,411.34 L393.04,412.27 L393.14,413.19 L393.24,414.12 L393.34,415.04 L393.44,415.97 L393.54,416.89 L393.64,417.82 L393.74,418.74 L393.84,419.67 L393.95,420.59 L394.06,421.51 L394.17,422.44 L394.28,423.36 L394.39,424.28 L394.50,425.20 L394.62,426.13 L394.74,427.05 L394.86,427.97 L394.99,428.89 L395.12,429.81 L395.25,430.73 L395.38,431.65 L395.51,432.57 L395.65,433.49 L395.78,434.41 L395.92,435.33 L396.07,436.26 L396.21,437.18 L396.36,438.10 L396.51,439.03 L396.67,439.95 L396.83,440.87 L397.00,441.78 L397.17,442.70 L397.34,443.61 L397.53,444.53 L397.71,445.43 L397.91,446.34 L398.11,447.24 L398.32,448.14 L398.53,449.04 L398.76,449.93 L398.99,450.82 L399.24,451.72 L399.50,452.63 L399.77,453.54 L400.06,454.45 L400.37,455.36 L400.69,456.26 L401.03,457.15 L401.39,458.02 L401.76,458.87 L402.15,459.71 L402.56,460.51 L403.00,461.29 L403.45,462.04 L403.96,462.80 L404.54,463.56 L405.16,464.32 L405.84,465.04 L406.54,465.71 L407.27,466.32 L408.02,466.83 L408.78,467.24 L409.57,467.58 L410.41,467.91 L411.29,468.20 L412.20,468.48 L413.13,468.72 L414.07,468.94 L415.01,469.13 L415.95,469.29 L416.87,469.41 L417.78,469.51 L418.70,469.62 L419.62,469.72 L420.54,469.81 L421.47,469.90 L422.40,469.98 L423.33,470.05 L424.26,470.12 L425.20,470.18 L426.13,470.22 L427.06,470.26 L427.99,470.29 L428.92,470.30 L429.85,470.30 L430.78,470.29 L431.70,470.27 L432.63,470.24 L433.56,470.20 L434.48,470.15 L435.41,470.09 L436.34,470.02 L437.26,469.94 L438.19,469.85 L439.12,469.75 L440.05,469.65 L440.97,469.53 L441.90,469.40" stroke="#b5b5b5" stroke-width="2.5"/>
</g>
<g stroke="#000" stroke-width="1.3" fill="none">
<rect x="77" y="8.8" width="680.7" height="475.2"/>
<path d="M70,8.8H77M70,88H77M70,167.2H77M70,246.4H77M70,325.6H77M70,404.8H77M70,484H77"/>
<path d="M77,484V491.4M174.24,484V491.4M271.48,484V491.4M368.72,484V491.4M465.96,484V491.4M563.2,484V491.4M660.44,484V491.4M757.7,484V491.4"/>
</g>
<g class="tk" text-anchor="end" style="font-size:18.2px">
<text transform="translate(60.5,15.3) scale(1,1.04)">1.2</text>
<text transform="translate(60.5,94.5) scale(1,1.04)">1.0</text>
<text transform="translate(60.5,173.7) scale(1,1.04)">0.8</text>
<text transform="translate(60.5,252.9) scale(1,1.04)">0.6</text>
<text transform="translate(60.5,332.1) scale(1,1.04)">0.4</text>
<text transform="translate(60.5,411.3) scale(1,1.04)">0.2</text>
<text transform="translate(60.5,490.5) scale(1,1.04)">0.0</text>
</g>
<g class="tk" text-anchor="middle">
<text transform="translate(77.2,516.7) scale(1,1.015)">170</text>
<text transform="translate(174.44,516.7) scale(1,1.015)">210</text>
<text transform="translate(271.68,516.7) scale(1,1.015)">250</text>
<text transform="translate(368.92,516.7) scale(1,1.015)">290</text>
<text transform="translate(466.16,516.7) scale(1,1.015)">330</text>
<text transform="translate(563.4,516.7) scale(1,1.015)">370</text>
<text transform="translate(660.64,516.7) scale(1,1.015)">410</text>
<text transform="translate(757.9,516.7) scale(1,1.015)">450</text>
</g>
<text class="ttl" text-anchor="middle" style="font-size:25.15px" transform="translate(418.35,549.3)">Wavelength (nm)</text>
<text class="ttl" text-anchor="middle" transform="translate(19.9,246.3) rotate(-90) scale(1,1.01)">Relative absorbance</text>
<g class="lg">
<text transform="translate(415.1,44.6) scale(1,1.035)">ProvD, vacuum (calculated)</text>
<text transform="translate(415.1,72.6) scale(1,1.035)">ProvD, kernel (calculated)</text>
<text transform="translate(415.1,100.8) scale(1,1.035)">ProvD, ethanol (measured)</text>
</g>
</svg>
</body></html>
